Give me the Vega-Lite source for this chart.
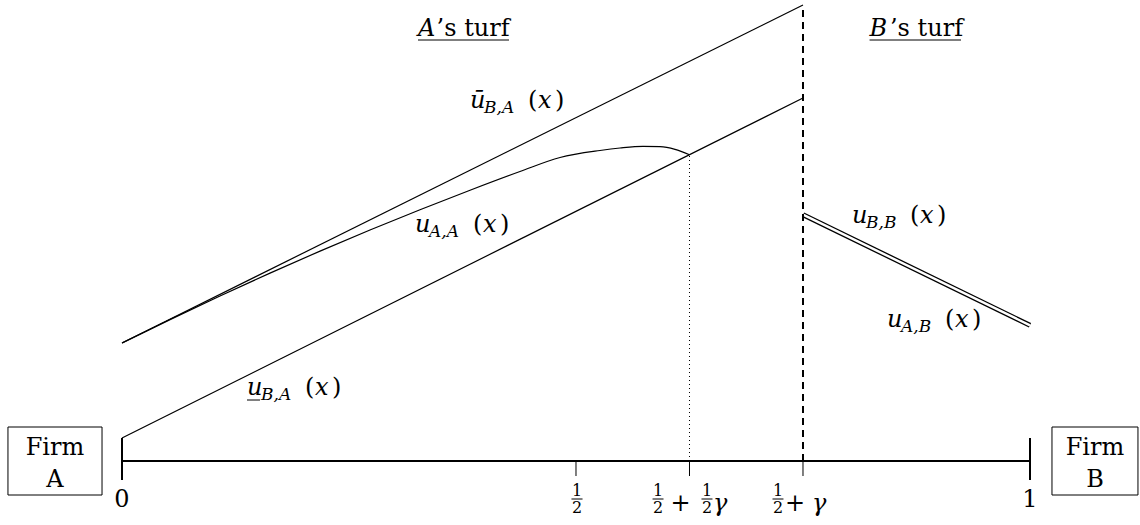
{
  "$schema": "https://vega.github.io/schema/vega-lite/v6.json",
  "width": 1140,
  "height": 525,
  "autosize": {"type": "fit", "contains": "padding"},
  "padding": 0,
  "background": "white",
  "config": {"view": {"stroke": null}},
  "datasets": {
    "lines": [
      {"s": "upper", "x": 0, "y": 1.18},
      {"s": "upper", "x": 0.75, "y": 4.56},
      {"s": "lower", "x": 0, "y": 0.23},
      {"s": "lower", "x": 0.75, "y": 3.63},
      {"s": "aa", "x": 0, "y": 1.18},
      {"s": "aa", "x": 0.0529, "y": 1.414},
      {"s": "aa", "x": 0.1079, "y": 1.65},
      {"s": "aa", "x": 0.163, "y": 1.879},
      {"s": "aa", "x": 0.2181, "y": 2.099},
      {"s": "aa", "x": 0.2731, "y": 2.31},
      {"s": "aa", "x": 0.3282, "y": 2.513},
      {"s": "aa", "x": 0.3833, "y": 2.708},
      {"s": "aa", "x": 0.4383, "y": 2.895},
      {"s": "aa", "x": 0.4824, "y": 3.035},
      {"s": "aa", "x": 0.5264, "y": 3.105},
      {"s": "aa", "x": 0.5485, "y": 3.13},
      {"s": "aa", "x": 0.5738, "y": 3.147},
      {"s": "aa", "x": 0.5925, "y": 3.144},
      {"s": "aa", "x": 0.609, "y": 3.117},
      {"s": "aa", "x": 0.625, "y": 3.063},
      {"s": "bb", "x": 0.75, "y": 2.463},
      {"s": "bb", "x": 1.0, "y": 1.357}
    ],
    "vrules": [
      {"k": "dash", "x": 0.75, "y": 0, "y2": 4.55},
      {"k": "dot", "x": 0.625, "y": 0, "y2": 3.063},
      {"k": "end", "x": 0, "y": 0.23, "y2": -0.19},
      {"k": "end", "x": 1, "y": 0.23, "y2": -0.19},
      {"k": "mid", "x": 0.5, "y": 0, "y2": -0.15},
      {"k": "mid", "x": 0.625, "y": 0, "y2": -0.15},
      {"k": "mid", "x": 0.75, "y": 0, "y2": -0.15}
    ],
    "hrules": [
      {"k": "axis", "x": 0, "x2": 1, "y": 0},
      {"k": "thin", "x": 0.495, "x2": 0.5072, "y": -0.38},
      {"k": "thin", "x": 0.5843, "x2": 0.5964, "y": -0.38},
      {"k": "thin", "x": 0.6382, "x2": 0.6503, "y": -0.38},
      {"k": "thin", "x": 0.7164, "x2": 0.7285, "y": -0.38},
      {"k": "thin", "x": 0.326, "x2": 0.4262, "y": 4.21},
      {"k": "thin", "x": 0.8233, "x2": 0.924, "y": 4.21},
      {"k": "thin", "x": 0.13767, "x2": 0.15198, "y": 0.61}
    ],
    "boxes": [
      {"x": -0.1256, "x2": -0.022, "y": 0.34, "y2": -0.34},
      {"x": 1.0242, "x2": 1.1189, "y": 0.34, "y2": -0.34}
    ],
    "texts": [
      {"st": "c", "x": -0.07379, "y": 0.06, "t": "Firm"},
      {"st": "c", "x": -0.07379, "y": -0.26, "t": "A"},
      {"st": "c", "x": 1.07159, "y": 0.06, "t": "Firm"},
      {"st": "c", "x": 1.07159, "y": -0.26, "t": "B"},
      {"st": "c", "x": 0, "y": -0.46, "t": "0"},
      {"st": "c", "x": 1, "y": -0.46, "t": "1"},
      {"st": "c", "x": 0.61509, "y": -0.5, "t": "+"},
      {"st": "c", "x": 0.74119, "y": -0.5, "t": "+"},
      {"st": "cs", "x": 0.5011, "y": -0.35, "t": "1"},
      {"st": "cs", "x": 0.5011, "y": -0.52, "t": "2"},
      {"st": "cs", "x": 0.59031, "y": -0.35, "t": "1"},
      {"st": "cs", "x": 0.59031, "y": -0.52, "t": "2"},
      {"st": "cs", "x": 0.64427, "y": -0.35, "t": "1"},
      {"st": "cs", "x": 0.64427, "y": -0.52, "t": "2"},
      {"st": "cs", "x": 0.72247, "y": -0.35, "t": "1"},
      {"st": "cs", "x": 0.72247, "y": -0.52, "t": "2"},
      {"st": "li", "x": 0.65088, "y": -0.5, "t": "γ"},
      {"st": "li", "x": 0.75991, "y": -0.5, "t": "γ"},
      {"st": "li", "x": 0.326, "y": 4.25, "t": "A"},
      {"st": "l", "x": 0.3465, "y": 4.25, "t": "’s turf"},
      {"st": "li", "x": 0.8233, "y": 4.25, "t": "B"},
      {"st": "l", "x": 0.8458, "y": 4.25, "t": "’s turf"},
      {"st": "li", "x": 0.38326, "y": 3.53, "t": "ū"},
      {"st": "ls", "x": 0.39868, "y": 3.48, "t": "B,A"},
      {"st": "l", "x": 0.44714, "y": 3.53, "t": "("},
      {"st": "li", "x": 0.45815, "y": 3.53, "t": "x"},
      {"st": "l", "x": 0.47687, "y": 3.53, "t": ")"},
      {"st": "li", "x": 0.32269, "y": 2.29, "t": "u"},
      {"st": "ls", "x": 0.33811, "y": 2.24, "t": "A,A"},
      {"st": "l", "x": 0.38656, "y": 2.29, "t": "("},
      {"st": "li", "x": 0.39758, "y": 2.29, "t": "x"},
      {"st": "l", "x": 0.4163, "y": 2.29, "t": ")"},
      {"st": "li", "x": 0.13767, "y": 0.66, "t": "u"},
      {"st": "ls", "x": 0.15308, "y": 0.61, "t": "B,A"},
      {"st": "l", "x": 0.20154, "y": 0.66, "t": "("},
      {"st": "li", "x": 0.21256, "y": 0.66, "t": "x"},
      {"st": "l", "x": 0.23128, "y": 0.66, "t": ")"},
      {"st": "li", "x": 0.80396, "y": 2.38, "t": "u"},
      {"st": "ls", "x": 0.81938, "y": 2.33, "t": "B,B"},
      {"st": "l", "x": 0.86784, "y": 2.38, "t": "("},
      {"st": "li", "x": 0.87885, "y": 2.38, "t": "x"},
      {"st": "l", "x": 0.89758, "y": 2.38, "t": ")"},
      {"st": "li", "x": 0.84251, "y": 1.34, "t": "u"},
      {"st": "ls", "x": 0.85793, "y": 1.29, "t": "A,B"},
      {"st": "l", "x": 0.90639, "y": 1.34, "t": "("},
      {"st": "li", "x": 0.9174, "y": 1.34, "t": "x"},
      {"st": "l", "x": 0.93612, "y": 1.34, "t": ")"}
    ]
  },
  "encoding": {
    "x": {"field": "x", "type": "quantitative", "scale": {"domain": [-0.13436, 1.12115], "nice": false, "zero": false}, "axis": null},
    "y": {"field": "y", "type": "quantitative", "scale": {"domain": [-0.64, 4.61], "nice": false, "zero": false}, "axis": null}
  },
  "layer": [
    {
      "data": {"name": "lines"},
      "transform": [{"filter": "datum.s !== 'bb'"}],
      "mark": {"type": "line", "color": "black", "strokeWidth": 1.2, "interpolate": "monotone"},
      "encoding": {"detail": {"field": "s"}}
    },
    {
      "data": {"name": "lines"},
      "transform": [{"filter": "datum.s === 'bb'"}],
      "mark": {"type": "line", "color": "black", "strokeWidth": 5, "strokeCap": "butt"},
      "encoding": {}
    },
    {
      "data": {"name": "lines"},
      "transform": [{"filter": "datum.s === 'bb'"}],
      "mark": {"type": "line", "color": "white", "strokeWidth": 2.4, "strokeCap": "butt"},
      "encoding": {}
    },
    {
      "data": {"name": "vrules"},
      "transform": [{"filter": "datum.k === 'dash'"}],
      "mark": {"type": "rule", "color": "black", "strokeWidth": 2, "strokeDash": [7, 5]},
      "encoding": {"y2": {"field": "y2"}}
    },
    {
      "data": {"name": "vrules"},
      "transform": [{"filter": "datum.k === 'dot'"}],
      "mark": {"type": "rule", "color": "black", "strokeWidth": 1, "strokeDash": [1, 3]},
      "encoding": {"y2": {"field": "y2"}}
    },
    {
      "data": {"name": "vrules"},
      "transform": [{"filter": "datum.k === 'end'"}],
      "mark": {"type": "rule", "color": "black", "strokeWidth": 2},
      "encoding": {"y2": {"field": "y2"}}
    },
    {
      "data": {"name": "vrules"},
      "transform": [{"filter": "datum.k === 'mid'"}],
      "mark": {"type": "rule", "color": "black", "strokeWidth": 1},
      "encoding": {"y2": {"field": "y2"}}
    },
    {
      "data": {"name": "hrules"},
      "transform": [{"filter": "datum.k === 'axis'"}],
      "mark": {"type": "rule", "color": "black", "strokeWidth": 2},
      "encoding": {"x2": {"field": "x2"}}
    },
    {
      "data": {"name": "hrules"},
      "transform": [{"filter": "datum.k === 'thin'"}],
      "mark": {"type": "rule", "color": "black", "strokeWidth": 1},
      "encoding": {"x2": {"field": "x2"}}
    },
    {
      "data": {"name": "boxes"},
      "mark": {"type": "rect", "fill": "white", "stroke": "black", "strokeWidth": 1},
      "encoding": {"x2": {"field": "x2"}, "y2": {"field": "y2"}}
    },
    {
      "data": {"name": "texts"},
      "transform": [{"filter": "datum.st === 'c'"}],
      "mark": {"type": "text", "font": "DejaVu Serif", "fontSize": 24, "align": "center", "baseline": "alphabetic", "color": "black"},
      "encoding": {"text": {"field": "t"}}
    },
    {
      "data": {"name": "texts"},
      "transform": [{"filter": "datum.st === 'cs'"}],
      "mark": {"type": "text", "font": "DejaVu Serif", "fontSize": 16, "align": "center", "baseline": "alphabetic", "color": "black"},
      "encoding": {"text": {"field": "t"}}
    },
    {
      "data": {"name": "texts"},
      "transform": [{"filter": "datum.st === 'l'"}],
      "mark": {"type": "text", "font": "DejaVu Serif", "fontSize": 24, "align": "left", "baseline": "alphabetic", "color": "black"},
      "encoding": {"text": {"field": "t"}}
    },
    {
      "data": {"name": "texts"},
      "transform": [{"filter": "datum.st === 'li'"}],
      "mark": {"type": "text", "font": "DejaVu Serif", "fontStyle": "italic", "fontSize": 24, "align": "left", "baseline": "alphabetic", "color": "black"},
      "encoding": {"text": {"field": "t"}}
    },
    {
      "data": {"name": "texts"},
      "transform": [{"filter": "datum.st === 'ls'"}],
      "mark": {"type": "text", "font": "DejaVu Serif", "fontStyle": "italic", "fontSize": 17, "align": "left", "baseline": "alphabetic", "color": "black"},
      "encoding": {"text": {"field": "t"}}
    }
  ]
}
